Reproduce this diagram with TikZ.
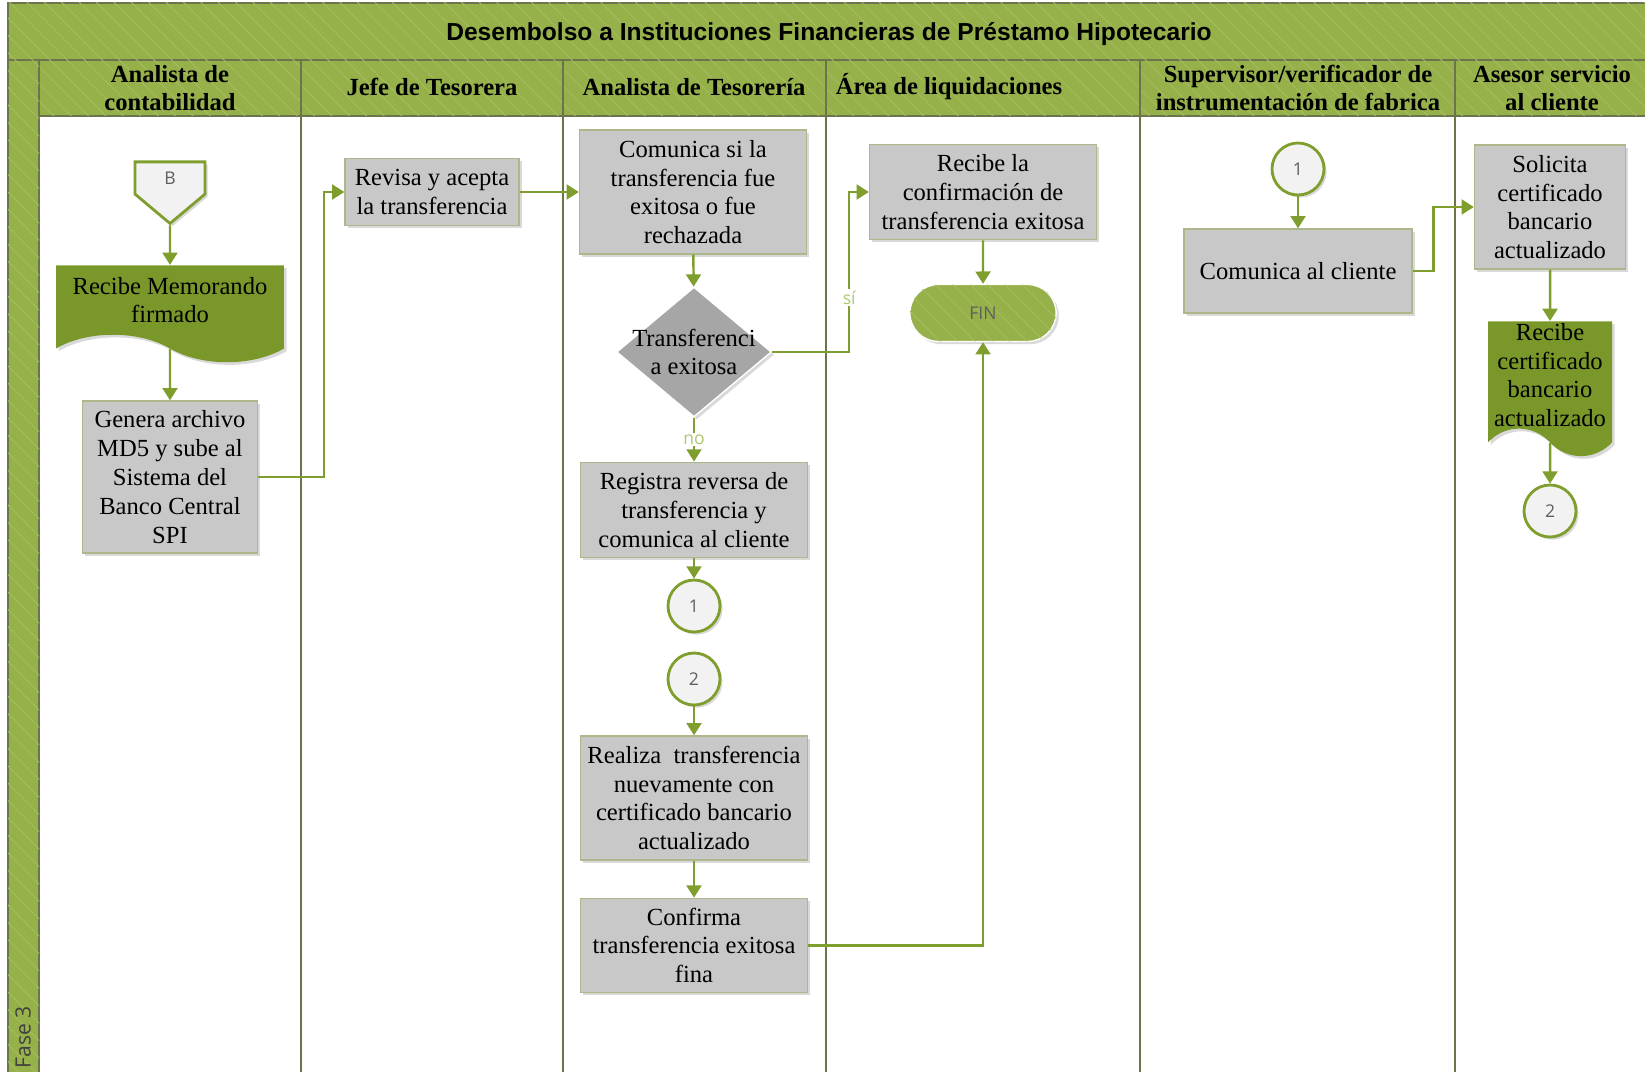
\documentclass[tikz,border=0pt]{standalone}
\usepackage{fontspec}
\setmainfont{Liberation Serif}
\newfontfamily\titlefont{Liberation Sans}
\newfontfamily\tagfont{Open Sans}
\usetikzlibrary{
  shapes.geometric,
  shapes.symbols,
  shapes.misc,
  arrows.meta,
  positioning,
  shadows,
  patterns.meta
}
\definecolor{olivebar}{RGB}{150,176,74}
\definecolor{olivehatch}{RGB}{164,190,94}
\definecolor{olivedark}{RGB}{122,152,42}
\definecolor{arrowgreen}{RGB}{127,158,46}
\definecolor{laneline}{RGB}{108,116,78}
\definecolor{boxgray}{RGB}{200,200,200}
\definecolor{boxborder}{RGB}{172,184,140}
\definecolor{decisiongray}{RGB}{166,166,166}
\definecolor{connectorbg}{RGB}{242,242,242}
\definecolor{tagtext}{RGB}{95,95,95}
\definecolor{branchgreen}{RGB}{172,200,112}
\definecolor{phasetext}{RGB}{64,64,64}
\tikzset{
  softshadow/.style={
    drop shadow={shadow xshift=1.5pt, shadow yshift=-1.5pt, opacity=0.3}
  },
  hatchbar/.style={
    fill=olivebar, draw=laneline, line width=1pt,
    postaction={pattern={Lines[angle=-45,distance=7pt,line width=0.5pt]},
      pattern color=olivehatch}
  },
  lanesep/.style={draw=laneline, line width=1.1pt},
  titletext/.style={font=\titlefont\fontsize{14}{16}\selectfont\bfseries},
  lanehead/.style={align=center, font=\fontsize{14}{16.4}\selectfont\bfseries},
  phaselabel/.style={font=\tagfont\fontsize{12}{14}\selectfont, text=phasetext},
  taskbox/.style={
    draw=boxborder, fill=boxgray, line width=0.8pt, align=center,
    inner sep=1pt, font=\fontsize{14}{16.4}\selectfont, softshadow
  },
  docbox/.style={
    shape=tape, tape bend top=none, tape bend bottom=out and in,
    tape bend height=0.55cm, fill=olivedark, align=center, inner sep=1pt,
    font=\fontsize{14}{16.4}\selectfont, softshadow
  },
  decisionbox/.style={
    diamond, fill=decisiongray, draw=white, line width=0.8pt,
    inner sep=0pt, align=center, font=\fontsize{14}{16.4}\selectfont, softshadow
  },
  connector/.style={
    circle, draw=arrowgreen, line width=1.6pt, fill=connectorbg,
    minimum size=1.04cm, inner sep=0pt,
    font=\tagfont\fontsize{10}{12}\selectfont, text=tagtext, softshadow
  },
  offpage/.style={
    shape=signal, signal to=south, signal from=nowhere,
    signal pointer angle=100, draw=arrowgreen, line width=1.6pt,
    fill=connectorbg, inner sep=0pt,
    font=\tagfont\fontsize{10}{12}\selectfont, text=tagtext, softshadow
  },
  terminal/.style={
    rounded rectangle, fill=olivebar, draw=white, line width=0.8pt,
    postaction={pattern={Lines[angle=-45,distance=7pt,line width=0.5pt]},
      pattern color=olivehatch},
    font=\tagfont\fontsize{10}{12}\selectfont, text=tagtext, softshadow
  },
  flow/.style={
    -{Triangle[length=7pt,width=8.5pt]}, draw=arrowgreen, line width=1.4pt
  },
  branchtag/.style={
    fill=white, inner sep=1pt, text=branchgreen,
    font=\tagfont\fontsize{10}{12}\selectfont
  },
}

\begin{document}
\begin{tikzpicture}[x=0.02cm, y=-0.02cm]
  \useasboundingbox (0,0) rectangle (1645,1071);
  \clip (0,0) rectangle (1645,1071);

  %% Pool, phase strip and lanes
  \path[hatchbar] (8,3) rectangle (1660,60);
  \path[hatchbar] (39,60) rectangle (1660,116);
  \path[hatchbar] (8,60) rectangle (39,1080);
  \foreach \lx in {301,563,826,1140,1455}
    \draw[lanesep] (\lx,60) -- (\lx,1080);

  \node[titletext] (title) at (829,34)
    {Desembolso a Instituciones Financieras de Préstamo Hipotecario};
  \node[lanehead] (hConta) at (170,88) {Analista de\\contabilidad};
  \node[lanehead] (hJefe) at (432,87) {Jefe de Tesorera};
  \node[lanehead] (hTeso) at (694,87) {Analista de Tesorería};
  \node[lanehead] (hLiq) at (949,87) {Área de liquidaciones};
  \node[lanehead] (hSup) at (1298,88) {Supervisor/verificador de\\instrumentación de fabrica};
  \node[lanehead] (hAses) at (1552,88) {Asesor servicio\\al cliente};
  \node[phaselabel, rotate=90] (fase) at (23,1037) {Fase 3};

  %% Analista de contabilidad
  \node[offpage, minimum width=1.4cm, minimum height=0.74cm] (B) at (170,178) {B};
  \node[docbox, minimum width=4.56cm, minimum height=1.94cm] (memo) at (170,300)
    {Recibe Memorando\\firmado};
  \node[taskbox, minimum width=3.5cm, minimum height=3.04cm] (gen) at (170,477)
    {Genera archivo\\MD5 y sube al\\Sistema del\\Banco Central\\SPI};

  %% Jefe de Tesorera
  \node[taskbox, minimum width=3.48cm, minimum height=1.34cm] (rev) at (432,192)
    {Revisa y acepta\\la transferencia};

  %% Analista de Tesoreria
  \node[taskbox, minimum width=4.54cm, minimum height=2.48cm] (com) at (693,192)
    {Comunica si la\\transferencia fue\\exitosa o fue\\rechazada};
  \node[decisionbox, minimum width=3.1cm, minimum height=2.6cm] (dec) at (694,352)
    {\makebox[0pt]{Transferenci}\\\makebox[0pt]{a exitosa}};
  \node[taskbox, minimum width=4.54cm, minimum height=1.91cm] (reg) at (694,510)
    {Registra reversa de\\transferencia y\\comunica al cliente};
  \node[connector] (c1a) at (694,606) {1};
  \node[connector] (c2a) at (694,679) {2};
  \node[taskbox, minimum width=4.54cm, minimum height=2.48cm] (real) at (694,798)
    {Realiza\ \ transferencia\\nuevamente con\\certificado bancario\\actualizado};
  \node[taskbox, minimum width=4.54cm, minimum height=1.88cm, below=0.74cm of real] (conf)
    {Confirma\\transferencia exitosa\\fina};

  %% Area de liquidaciones
  \node[taskbox, minimum width=4.54cm, minimum height=1.91cm] (rconf) at (983,192)
    {Recibe la\\confirmación de\\transferencia exitosa};
  \node[terminal, minimum width=3.16cm, minimum height=1.14cm] (fin) at (983,313) {FIN};

  %% Supervisor/verificador
  \node[connector] (c1b) at (1298,169) {1};
  \node[taskbox, minimum width=4.56cm, minimum height=1.68cm] (cli) at (1298,271)
    {Comunica al cliente};

  %% Asesor servicio al cliente
  \node[taskbox, minimum width=3.02cm, minimum height=2.48cm] (sol) at (1550,207)
    {Solicita\\certificado\\bancario\\actualizado};
  \node[docbox, minimum width=2.48cm, minimum height=2.56cm] (rcert) at (1550,375)
    {Recibe\\certificado\\bancario\\actualizado};
  \node[connector] (c2b) at (1550,511) {2};

  %% Connectors
  \draw[flow] (B) -- (memo);
  \draw[flow] (memo) -- (gen);
  \draw[flow] (gen.east) -- ++(66,0) |- (rev.west);
  \draw[flow] (rev) -- (com);
  \draw[flow] (com) -- (dec);
  \draw[flow] (dec.east) -- ++(77,0) |- (rconf.west) node[branchtag, pos=0.17] {sí};
  \draw[flow] (dec) -- node[branchtag] {no} (reg);
  \draw[flow] (reg) -- (c1a);
  \draw[flow] (c2a) -- (real);
  \draw[flow] (real) -- (conf);
  \draw[flow] (conf.east) -| (fin.south);
  \draw[flow] (rconf) -- (fin);
  \draw[flow] (c1b) -- (cli);
  \draw[flow] (cli.east) -- ++(21,0) |- (sol.west);
  \draw[flow] (sol) -- (rcert);
  \draw[flow] (rcert) -- (c2b);

\end{tikzpicture}
\end{document}
